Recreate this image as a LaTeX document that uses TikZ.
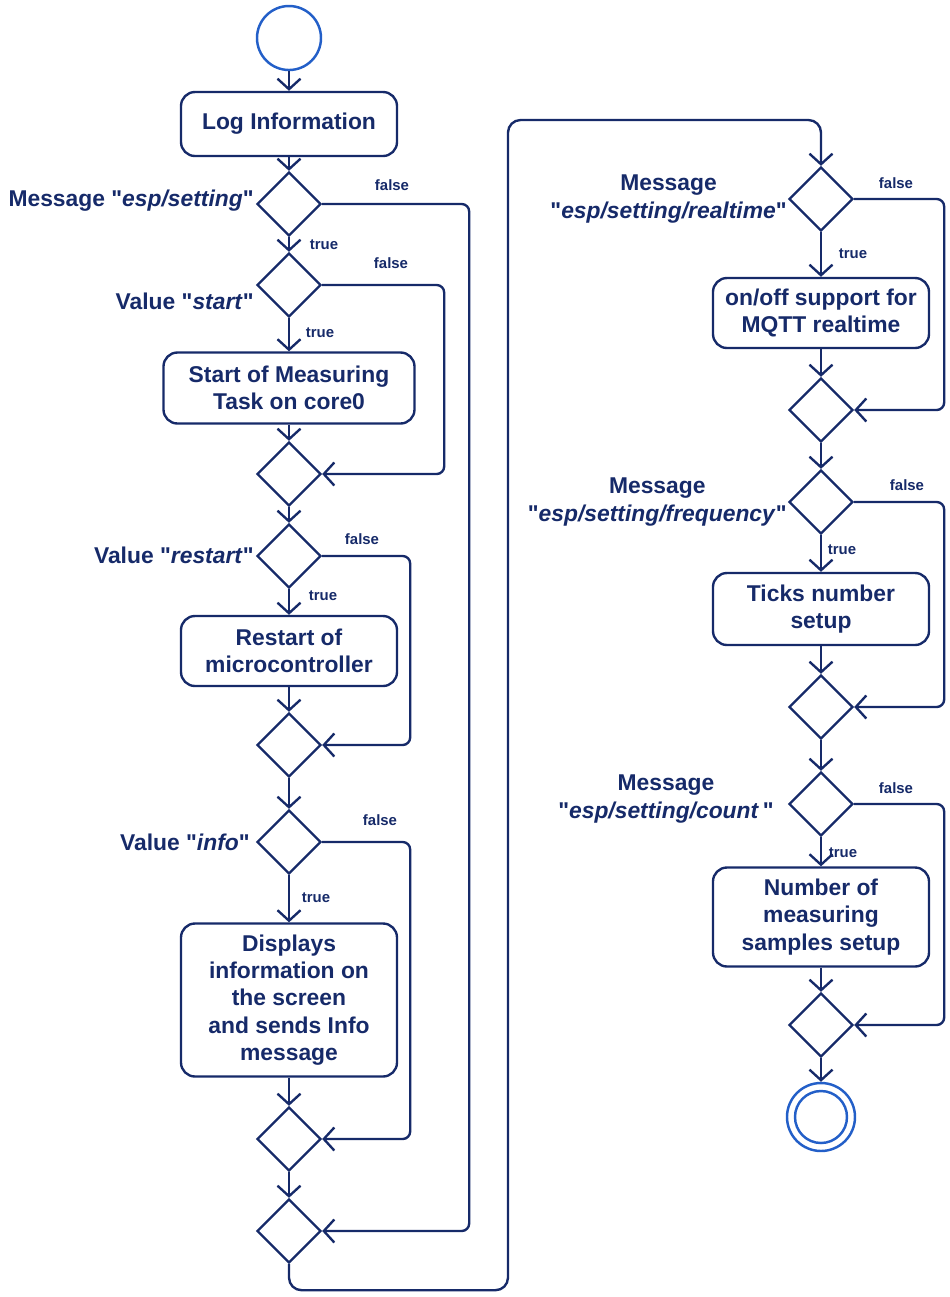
\documentclass[tikz,border=0pt]{standalone}
\usepackage{fontspec}
\setmainfont{Liberation Sans}[Ligatures=TeXOff]
\usepackage{tikz}
\usetikzlibrary{arrows.meta,shapes.geometric}
\usepackage{xcolor}
\definecolor{inkc}{RGB}{22,42,105}
\definecolor{termc}{RGB}{35,95,200}
\tikzset{
  act/.style={rectangle,rounded corners=2.8mm,draw=inkc,line width=1.35pt,minimum width=4.32cm,inner sep=0pt,align=center,font=\bfseries\fontsize{13}{15.5}\selectfont,text=inkc},
  dec/.style={diamond,draw=inkc,line width=1.35pt,minimum width=1.28cm,minimum height=1.28cm,inner sep=0pt},
  cond/.style={inner sep=0pt,align=center,font=\bfseries\fontsize{13}{15.5}\selectfont,text=inkc},
  guard/.style={inner sep=0pt,font=\bfseries\fontsize{8.5}{10}\selectfont,text=inkc},
  % control flow; the loop variant takes the rounded detours on the false side
  flow/.style={-{Straight Barb[length=2.1mm,width=4.6mm]},draw=inkc,line width=1.35pt},
  loopc/.style={flow,rounded corners=1.5mm},
}

\begin{document}
\begin{tikzpicture}[x=0.2mm,y=-0.2mm,
  init/.style={circle,draw=termc,line width=1.4pt,minimum size=1.28cm,inner sep=0pt},
  fin/.style={circle,draw=termc,line width=1.4pt,minimum size=1.36cm,inner sep=0pt},
  finin/.style={circle,draw=termc,line width=1.4pt,minimum size=1.04cm,inner sep=0pt}]
  \useasboundingbox (0,0) rectangle (950,1297);
  % ---- left column: message "esp/setting" and its values ----
  \node[init] (start) at (289,38) {};
  \node[act,minimum height=1.28cm] (log) at (289,124) {Log Information};
  \node[dec] (d1) at (289,204) {};
  \node[dec] (d2) at (289,285) {};
  \node[act,minimum width=5.02cm,minimum height=1.42cm] (a1) at (289,388) {Start of Measuring\\Task on core0};
  \node[dec] (m1) at (289,474) {};
  \node[dec] (d3) at (289,556) {};
  \node[act,minimum height=1.4cm] (a2) at (289,651) {Restart of\\microcontroller};
  \node[dec] (m2) at (289,745) {};
  \node[dec] (d4) at (289,842) {};
  \node[act,minimum height=3.06cm] (a3) at (289,1000) {Displays\\information on\\the screen\\and sends Info\\message};
  \node[dec] (m3) at (289,1139) {};
  \node[dec] (m4) at (289,1231) {};
  \node[cond,anchor=east] (c1) at (254,201) {Message "\textit{esp/setting}"};
  \node[cond,anchor=east] (c2) at (254,301) {Value "\textit{start}"};
  \node[cond,anchor=east] (c3) at (254,555) {Value "\textit{restart}"};
  \node[cond,anchor=east] (c4) at (250,842) {Value "\textit{info}"};
  \draw[flow] (start)--(log); \draw[flow] (log)--(d1); \draw[flow] (d1)--(d2);
  \draw[flow] (d2)--(a1); \draw[flow] (a1)--(m1); \draw[flow] (m1)--(d3);
  \draw[flow] (d3)--(a2); \draw[flow] (a2)--(m2); \draw[flow] (m2)--(d4);
  \draw[flow] (d4)--(a3); \draw[flow] (a3)--(m3); \draw[flow] (m3)--(m4);
  \draw[loopc] (d1.east) -- ++(147,0) |- (m4.east);
  \draw[loopc] (d2.east) -- ++(122,0) |- (m1.east);
  \draw[loopc] (d3.east) -- ++(88,0) |- (m2.east);
  \draw[loopc] (d4.east) -- ++(88,0) |- (m3.east);
  \node[guard] (t1) at (324,245) {true};  \node[guard] (f1) at (392,185) {false};
  \node[guard] (t2) at (320,333) {true};  \node[guard] (f2) at (391,263) {false};
  \node[guard] (t3) at (323,596) {true};  \node[guard] (f3) at (362,539) {false};
  \node[guard] (t4) at (316,898) {true};  \node[guard] (f4) at (380,820) {false};
  % ---- right column: the three sub-topics ----
  \node[dec] (d5) at (821,199) {};
  \node[act,minimum height=1.4cm] (a4) at (821,313) {on/off support for\\MQTT realtime};
  \node[dec] (m5) at (821,410) {};
  \node[dec] (d6) at (821,502) {};
  \node[act,minimum height=1.44cm] (a5) at (821,609) {Ticks number\\setup};
  \node[dec] (m6) at (821,707) {};
  \node[dec] (d7) at (821,804) {};
  \node[act,minimum height=1.98cm] (a6) at (821,917) {Number of\\measuring\\samples setup};
  \node[dec] (m7) at (821,1025) {};
  \node[fin] (end) at (821,1117) {};
  \node[finin] (endin) at (end) {};
  \node[cond,anchor=east] (c5) at (787,199) {Message\\"\textit{esp/setting/realtime}"};
  \node[cond,anchor=east] (c6) at (787,502) {Message\\"\textit{esp/setting/frequency}"};
  \node[cond,anchor=east] (c7) at (774,799) {Message\\"\textit{esp/setting/count}\,"};
  \draw[flow] (d5)--(a4); \draw[flow] (a4)--(m5); \draw[flow] (m5)--(d6);
  \draw[flow] (d6)--(a5); \draw[flow] (a5)--(m6); \draw[flow] (m6)--(d7);
  \draw[flow] (d7)--(a6); \draw[flow] (a6)--(m7); \draw[flow] (m7)--(end);
  \draw[loopc] (d5.east) -- ++(90,0) |- (m5.east);
  \draw[loopc] (d6.east) -- ++(90,0) |- (m6.east);
  \draw[loopc] (d7.east) -- ++(90,0) |- (m7.east);
  \node[guard] (t5) at (853,254) {true};  \node[guard] (f5) at (896,183) {false};
  \node[guard] (t6) at (842,550) {true};  \node[guard] (f6) at (907,485) {false};
  \node[guard] (t7) at (843,853) {true};  \node[guard] (f7) at (896,788) {false};
  % ---- the long way round from the first column to the second ----
  \coordinate (detour) at (508,120);
  \draw[flow,rounded corners=2.5mm] (m4.south) -- ++(0,26) -| (detour) -| (d5.north);
\end{tikzpicture}
\end{document}
